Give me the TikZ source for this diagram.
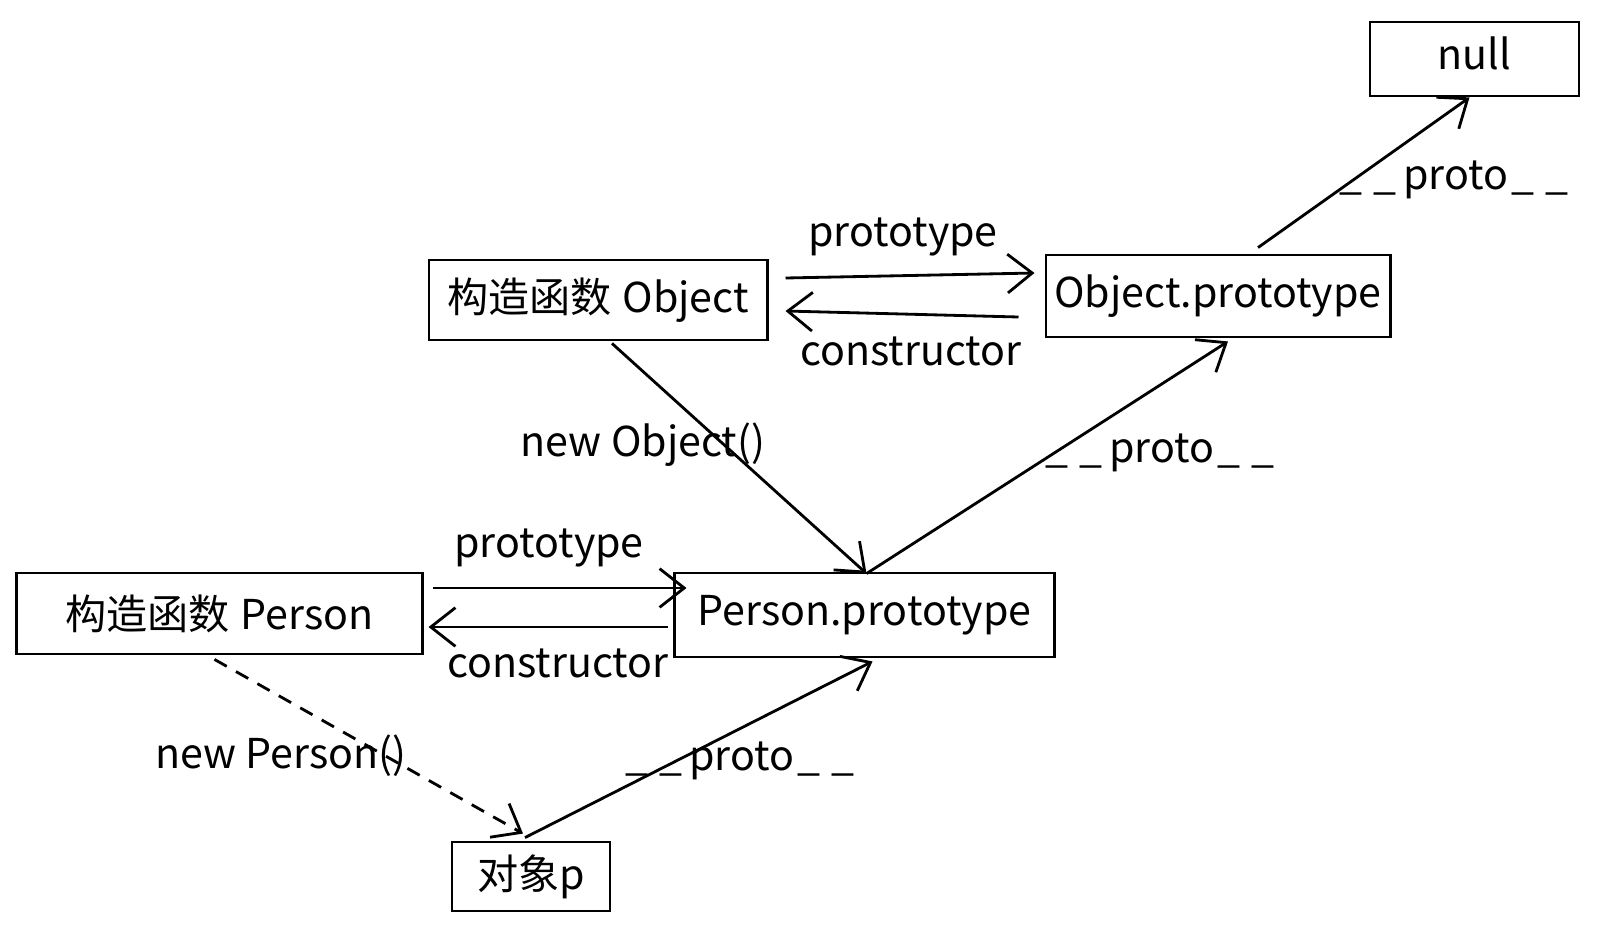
\documentclass[tikz,border=0pt]{standalone}
\usepackage{fontspec}
\setmainfont{Noto Sans CJK SC}
\usetikzlibrary{calc,arrows.meta}
\tikzset{
  objbox/.style={draw, line width=0.8pt, inner sep=0pt, font=\fontsize{11.7}{14}\selectfont},
  lbl/.style={inner sep=0pt, font=\fontsize{11.7}{14}\selectfont},
  link/.style={line width=0.8pt, -{Straight Barb[length=7pt,width=11pt]}},
  newlink/.style={link, dash pattern=on 4pt off 3pt},
}
\newcommand{\protoname}{\_\kern3pt\_\kern2pt proto\kern1pt\_\kern3pt\_}

\begin{document}
\begin{tikzpicture}[x=0.01cm, y=-0.01cm]
			%%%%% START %%%%%
			\useasboundingbox (0,0) rectangle (1600,933);
			
			\node[objbox, minimum width=2.09cm, minimum height=0.74cm, text depth=0.12cm] (nullbox) at (1474.5,59) {null};
			\node[objbox, minimum width=3.38cm, minimum height=0.80cm] (objfn) at (598,300) {构造函数\kern3pt Object};
			\node[objbox, minimum width=3.44cm, minimum height=0.82cm] (objproto) at (1218,296) {Object.prototype};
			\node[objbox, minimum width=4.05cm, minimum height=0.81cm] (personfn) at (219.5,613.5) {构造函数\kern3pt Person};
			\node[objbox, minimum width=3.79cm, minimum height=0.84cm] (personproto) at (864.5,615) {Person.prototype};
			\node[objbox, minimum width=1.58cm, minimum height=0.69cm] (objp) at (531,876.5) {对象p};
			
			% Object <-> Object.prototype
			\draw[link] ($(objfn.east)+(17,-22)$) -- ($(objproto.west)+(-10,-23)$);
			\draw[link] ($(objproto.west)+(-26,21)$) -- ($(objfn.east)+(17,11)$);
			\node[lbl] (objprotolbl) at (903,237) {prototype};
			\node[lbl] (objctorlbl) at (911,351) {constructor};
			
			% Person <-> Person.prototype
			\draw[link] ($(personfn.east)+(9,-25.5)$) -- ($(personproto.west)+(13,-27)$);
			\draw[link] ($(personproto.west)+(-5,12)$) -- ($(personfn.east)+(5,13.5)$);
			\node[lbl] (personprotolbl) at (549,548) {prototype};
			\node[lbl] (personctorlbl) at (558,663) {constructor};
			
			% new
			\draw[link] ($(objfn.south)+(14,2)$) -- ($(personproto.north)+(2,2)$);
			\node[lbl] (newobjlbl) at (643,445) {new Object()};
			\draw[newlink] ($(personfn.south)+(-5,4)$) -- ($(objp.north)+(-8,-7)$);
			\node[lbl] (newpersonlbl) at (281,756) {new Person()};
			
			% __proto__ chain
			\draw[link] ($(objp.north)+(-6,-3)$) -- ($(personproto.south)+(8,3)$);
			\node[lbl] (protolbla) at (740,761) {\protoname};
			\draw[link] ($(personproto.north)+(2,2)$) -- ($(objproto.south)+(10,3)$);
			\node[lbl] (protolblb) at (1160,453) {\protoname};
			\draw[link] ($(objproto.north)+(40,-6)$) -- ($(nullbox.south)+(-5,0)$);
			\node[lbl] (protolblc) at (1454,180) {\protoname};
			
			%%%%% END %%%%%
\end{tikzpicture}
\end{document}
